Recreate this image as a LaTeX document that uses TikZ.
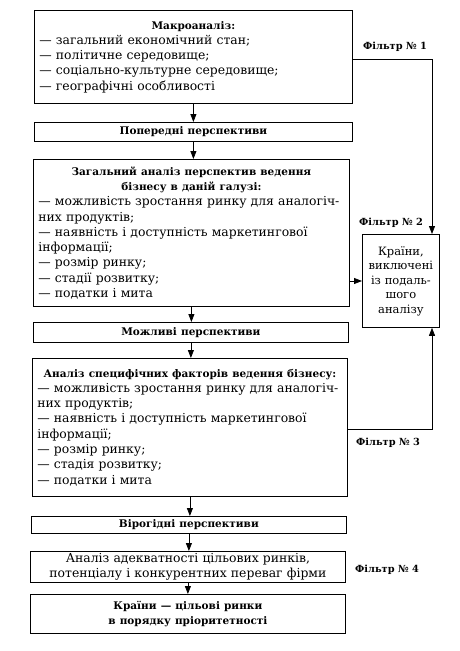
\documentclass[tikz,border=0pt]{standalone}
\usepackage{fontspec}
\setmainfont{DejaVu Serif}
\usetikzlibrary{arrows.meta}
\newcommand\hdfont{\fontsize{10.5}{15.3}\selectfont\bfseries}
\tikzset{
  boxn/.style={draw, line width=0.8pt, rectangle, anchor=north west,
    inner xsep=5pt, inner ysep=0pt,
    font=\fontsize{12.4}{15.3}\selectfont},
  sidebox/.style={boxn, align=center, font=\fontsize{11.5}{14.5}\selectfont},
  arr/.style={-{Triangle[length=8pt,width=6pt]}, line width=0.8pt},
  flab/.style={font=\bfseries\fontsize{9.8}{12}\selectfont, inner sep=0pt}
}
\begin{document}
\begin{tikzpicture}[x=1pt,y=-1pt]
\useasboundingbox (0,0) rectangle (460,651);
\fill[white] (0,0) rectangle (460,651);

% main column
\node[boxn, text width=308pt, minimum height=93pt, align=left] (b1) at (34,10)
  {{\centering\hdfont Макроаналіз:\par}
   — загальний економічний стан;\\
   — політичне середовище;\\
   — соціально-культурне середовище;\\
   — географічні особливості};
\node[boxn, text width=308pt, minimum height=19pt, align=center] (b2) at (34,122)
  {\hdfont Попередні перспективи};
\node[boxn, text width=306pt, minimum height=147pt, align=left] (b3) at (33,159)
  {{\centering\hdfont Загальний аналіз перспектив ведення\\ бізнесу в даній галузі:\par}
   — можливість зростання ринку для аналогіч-\\
   них продуктів;\\
   — наявність і доступність маркетингової\\
   інформації;\\
   — розмір ринку;\\
   — стадії розвитку;\\
   — податки і мита};
\node[boxn, text width=305pt, minimum height=20pt, align=center] (b4) at (33,322)
  {\hdfont Можливі перспективи};
\node[boxn, text width=305pt, minimum height=138pt, align=left] (b5) at (32,358)
  {{\centering\hdfont Аналіз специфічних факторів ведення бізнесу:\par}
   — можливість зростання ринку для аналогіч-\\
   них продуктів;\\
   — наявність і доступність маркетингової\\
   інформації;\\
   — розмір ринку;\\
   — стадія розвитку;\\
   — податки і мита};
\node[boxn, text width=305pt, minimum height=17pt, align=center] (b6) at (31,516)
  {\hdfont Вірогідні перспективи};
\node[boxn, text width=305pt, minimum height=31pt, align=center] (b7) at (30,551)
  {Аналіз адекватності цільових ринків,\\ потенціалу і конкурентних переваг фірми};
\node[boxn, text width=305pt, minimum height=39pt, align=center] (b8) at (30,594)
  {\hdfont Країни — цільові ринки\\ в порядку пріоритетності};

% side box
\node[sidebox, text width=67pt, minimum height=93pt] (r) at (362,234)
  {Країни,\\ виключені\\ із подаль-\\ шого\\ аналізу};

% filter labels
\node[flab] (l1) at (395,47) {Фільтр № 1};
\node[flab] (l2) at (391,223) {Фільтр № 2};
\node[flab] (l3) at (388,443) {Фільтр № 3};
\node[flab] (l4) at (387,570) {Фільтр № 4};

% vertical arrows
\draw[arr] (b1.south) -- (b1.south |- b2.north);
\draw[arr] (b2.south) -- (b2.south |- b3.north);
\draw[arr] (b3.south) -- (b3.south |- b4.north);
\draw[arr] (b4.south) -- (b4.south |- b5.north);
\draw[arr] (b5.south) -- (b5.south |- b6.north);
\draw[arr] (b6.south) -- (b6.south |- b7.north);
\draw[arr] (b7.south) -- (b7.south |- b8.north);

% filter connectors
\coordinate (c1) at (432,59);
\coordinate (c2) at (355,281);
\coordinate (c3) at (432,429);
\draw[arr] (b1.east |- c1) -- (c1) -- (c1 |- r.north);
\draw[arr] (b3.east |- c2) -- (r.west |- c2);
\draw[arr] (b5.east |- c3) -- (c3) -- (c3 |- r.south);
\end{tikzpicture}
\end{document}
